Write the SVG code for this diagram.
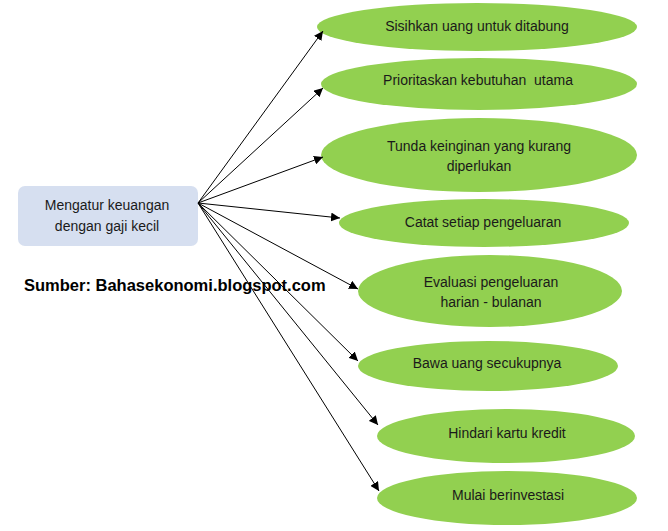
<svg xmlns="http://www.w3.org/2000/svg" width="668" height="531" viewBox="0 0 668 531">
<defs>
<marker id="ah" viewBox="0 0 10 10" refX="10" refY="5" markerWidth="9" markerHeight="9" markerUnits="userSpaceOnUse" orient="auto">
<path d="M0,0 L10,5 L0,10 z" fill="#000"/>
</marker>
</defs>
<style>
.el{fill:#92d050;}
.t{font-family:"Liberation Sans",Arial,sans-serif;font-size:14px;fill:#1a1a1a;text-anchor:middle;white-space:pre;}
.c{stroke:#000;stroke-width:1;fill:none;marker-end:url(#ah);}
</style>
<rect width="668" height="531" fill="#fff"/>
<g id="root">
<rect x="18" y="186" width="180" height="60" rx="7" fill="#d6dff0"/>
<text class="t" x="107" y="210">Mengatur keuangan</text>
<text class="t" x="107" y="231">dengan gaji kecil</text>
</g>
<g id="source">
<text x="24" y="291" font-family="Liberation Sans,Arial,sans-serif" font-size="16.5" font-weight="bold" fill="#000">Sumber: Bahasekonomi.blogspot.com</text>
</g>
<g id="n1"><ellipse class="el" cx="477" cy="27" rx="160" ry="24"/><text class="t" x="477" y="31">Sisihkan uang untuk ditabung</text></g>
<g id="n2"><ellipse class="el" cx="479" cy="84" rx="158" ry="26"/><text class="t" x="478" y="85">Prioritaskan kebutuhan  utama</text></g>
<g id="n3"><ellipse class="el" cx="479" cy="155" rx="158" ry="37"/><text class="t" x="479" y="151">Tunda keinginan yang kurang</text><text class="t" x="479" y="171">diperlukan</text></g>
<g id="n4"><ellipse class="el" cx="484" cy="223" rx="145" ry="24"/><text class="t" x="483" y="227">Catat setiap pengeluaran</text></g>
<g id="n5"><ellipse class="el" cx="490" cy="291" rx="132" ry="36"/><text class="t" x="491" y="287">Evaluasi pengeluaran</text><text class="t" x="491" y="307">harian - bulanan</text></g>
<g id="n6"><ellipse class="el" cx="488" cy="366" rx="130" ry="25"/><text class="t" x="487" y="368">Bawa uang secukupnya</text></g>
<g id="n7"><ellipse class="el" cx="506" cy="436" rx="129" ry="27"/><text class="t" x="507" y="438">Hindari kartu kredit</text></g>
<g id="n8"><ellipse class="el" cx="507" cy="498" rx="130" ry="27"/><text class="t" x="508" y="500">Mulai berinvestasi</text></g>
<g id="connectors">
<line class="c" x1="198" y1="203" x2="323" y2="31"/>
<line class="c" x1="198" y1="203" x2="323" y2="88"/>
<line class="c" x1="198" y1="203" x2="323" y2="157"/>
<line class="c" x1="198" y1="203" x2="340" y2="218"/>
<line class="c" x1="198" y1="203" x2="358" y2="289"/>
<line class="c" x1="198" y1="203" x2="358" y2="361"/>
<line class="c" x1="198" y1="203" x2="378" y2="425"/>
<line class="c" x1="198" y1="203" x2="379" y2="491"/>
</g>
</svg>
